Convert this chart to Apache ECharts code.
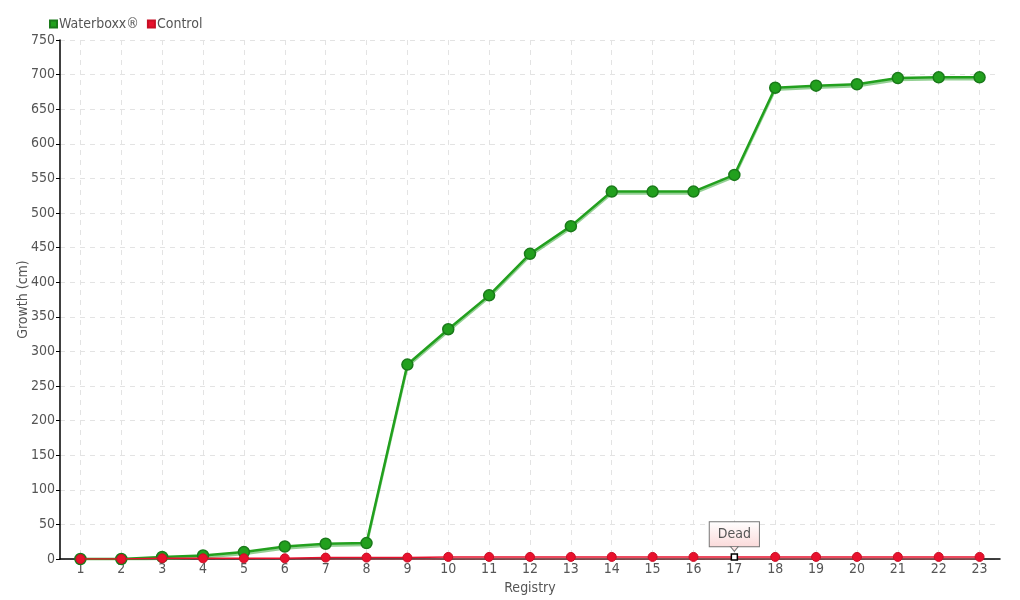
<!DOCTYPE html>
<html><head><meta charset="utf-8">
<script src="https://cdn.jsdelivr.net/npm/echarts@6/dist/echarts.min.js"></script>
<style>html,body{margin:0;padding:0;background:#fff}#c{width:1020px;height:600px}</style>
</head><body><div id="c"></div>
<script>
const categories = ['1','2','3','4','5','6','7','8','9','10','11','12','13','14','15','16','17','18','19','20','21','22','23'];
const waterboxx = [0,0,3,5,10,18,22,23,281,332,381,441,481,531,531,531,555,681,684,686,695,696,696];
const control = [0,0,1,1,1,1,2,2,2,3,3,3,3,3,3,3,3,3,3,3,3,3,3];
const yTicks = {min:0, max:750, interval:50};
const deadIndex = 16;

const FONT = "'Liberation Sans Narrow','DejaVu Sans Condensed',sans-serif";
const chart = echarts.init(document.getElementById('c'));
chart.setOption({
  animation:false,
  textStyle:{fontFamily:FONT},
  legend:{left:44, top:12, itemWidth:7, itemHeight:7, itemGap:8, icon:'rect',
    textStyle:{fontFamily:FONT, fontSize:14, color:'#555', padding:[0,0,0,-3]},
    data:['Waterboxx®','Control']},
  grid:{left:60, right:20, top:40, bottom:41},
  xAxis:{type:'category', data:categories, boundaryGap:true,
    name:'Registry', nameLocation:'middle', nameGap:22,
    nameTextStyle:{fontFamily:FONT, fontSize:14, color:'#555'},
    axisLine:{lineStyle:{color:'#000', width:1.5}},
    axisTick:{show:false},
    axisLabel:{fontFamily:FONT, fontSize:14, color:'#555', margin:3},
    splitLine:{show:true, alignWithLabel:true, lineStyle:{color:'#e3e3e3', type:[5,5]}}},
  yAxis:{type:'value', min:yTicks.min, max:yTicks.max, interval:yTicks.interval,
    name:'Growth (cm)', nameLocation:'middle', nameGap:30, nameMoveOverlap:false,
    nameTextStyle:{fontFamily:FONT, fontSize:14, color:'#555'},
    axisLine:{show:true, lineStyle:{color:'#000', width:1.5}},
    axisTick:{show:true, length:4, lineStyle:{color:'#000'}},
    axisLabel:{fontFamily:FONT, fontSize:14, color:'#555', margin:5},
    splitLine:{show:true, lineStyle:{color:'#e3e3e3', type:[5,5]}}},
  series:[
    {name:'Waterboxx®', type:'line', data:waterboxx, symbol:'circle', symbolSize:11, z:2,
      lineStyle:{color:'#22a01e', width:2.5, shadowColor:'rgba(60,170,60,0.55)', shadowOffsetY:2, shadowBlur:0},
      itemStyle:{color:'#22a01e', borderColor:'#1a7a1a', borderWidth:1.5}},
    {name:'Control', type:'line', z:3,
      data:control.map((v,i)=> i===deadIndex ? {value:v, symbol:'rect', symbolSize:6,
        itemStyle:{color:'#fff', borderColor:'#000', borderWidth:1.5},
        label:{show:true, position:'top', distance:7, formatter:'Dead', fontFamily:FONT, fontSize:14, color:'#555',
          padding:[5,8,5,8], borderColor:'#777', borderWidth:1,
          backgroundColor:{type:'linear',x:0,y:0,x2:0,y2:1,colorStops:[{offset:0,color:'#ffffff'},{offset:1,color:'#fbdada'}]}}} : v),
      markPoint:{silent:true, symbol:'triangle', symbolRotate:180, symbolSize:[8,5], symbolOffset:[0,-8],
        itemStyle:{color:'#fce4e4', borderColor:'#777', borderWidth:1}, label:{show:false},
        data:[{coord:[deadIndex, control[deadIndex]]}]},
      symbol:'circle', symbolSize:9,
      lineStyle:{color:'#e8112d', width:1.5, shadowColor:'rgba(240,100,110,0.6)', shadowOffsetY:2, shadowBlur:0},
      itemStyle:{color:'#e8112d', borderColor:'#c80f25', borderWidth:1}}
  ]
});
</script></body></html>
